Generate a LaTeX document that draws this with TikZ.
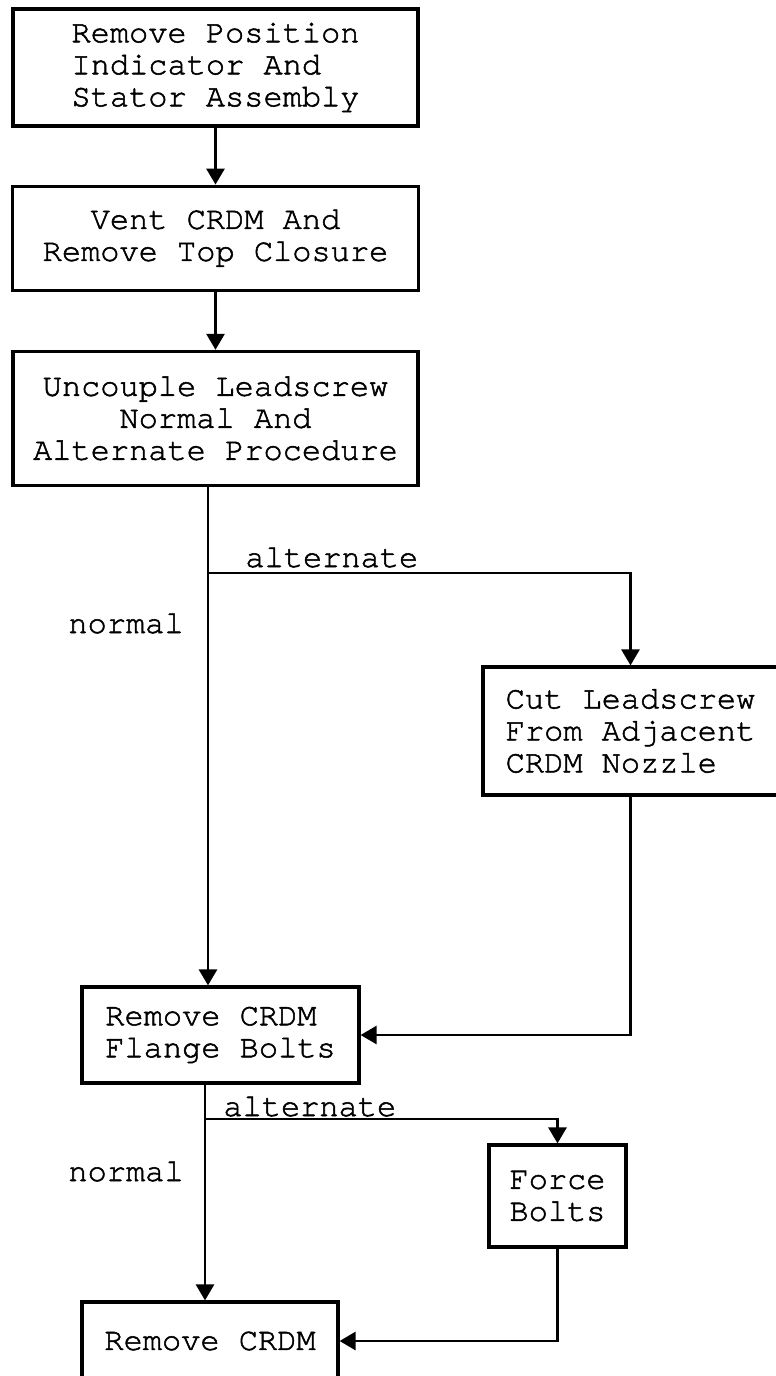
\documentclass[tikz,border=0pt]{standalone}
\usepackage{fontspec}
\newfontfamily\typewriter[FakeBold=1.6]{TeX Gyre Cursor}
\usetikzlibrary{arrows.meta, positioning}
\tikzset{
	stepbox/.style={rectangle, draw, line width=1.6pt, inner sep=0pt,
		font=\typewriter\fontsize{16}{16}\selectfont},
	flowline/.style={line width=1.4pt},
	flowarrow/.style={flowline, -{Triangle[length=8pt, width=9pt]}},
	branchlabel/.style={anchor=base west, inner sep=0pt,
		font=\typewriter\fontsize{16}{16}\selectfont}
}

\begin{document}
\begin{tikzpicture}[x=1pt, y=-1pt]
	\useasboundingbox (0,0) rectangle (388,688);
	
	%% ---- Main column ----
	\node[stepbox, align=left, minimum width=202.5pt, minimum height=58.5pt]
	at (107.75,33.75) (indicator) {Remove Position\\Indicator And\\Stator Assembly};
	\node[stepbox, align=center, minimum width=203pt, minimum height=52pt,
	below=28.5pt of indicator] (vent) {Vent CRDM And\\Remove Top Closure};
	\node[stepbox, align=center, minimum width=202.5pt, minimum height=67pt,
	below=29pt of vent] (uncouple) {Uncouple Leadscrew\\Normal And\\Alternate Procedure};
	
	%% ---- Alternate step (cut) ----
	\node[stepbox, align=left, minimum width=147.5pt, minimum height=64pt]
	at (315.25,365.5) (cut) {Cut Leadscrew\\From Adjacent\\CRDM Nozzle};
	
	%% ---- Lower part ----
	\node[stepbox, align=left, minimum width=138.5pt, minimum height=48pt]
	at (110.25,517.5) (flange) {Remove CRDM\\Flange Bolts};
	\node[stepbox, align=left, minimum width=68.5pt, minimum height=51pt]
	at (278.75,598) (force) {Force\\Bolts};
	\node[stepbox, minimum width=128pt, minimum height=39pt]
	at (105,670.5) (removecrdm) {Remove CRDM};
	
	%% ---- Branch points ----
	\coordinate (split1) at (104,286.5);
	\coordinate (split2) at (102.5,559.5);
	
	%% ---- Branch labels ----
	\node[branchlabel] at (122.5,283.5) (alt1) {alternate};
	\node[branchlabel] at (34,316.5) (norm1) {normal};
	\node[branchlabel] at (111.5,558) (alt2) {alternate};
	\node[branchlabel] at (34,590.5) (norm2) {normal};
	
	%% ---- Arrows ----
	\draw[flowarrow] (indicator.south) -- (vent.north);
	\draw[flowarrow] (vent.south) -- (uncouple.north);
	\draw[flowline] (uncouple.south -| split1) -- (split1);
	\draw[flowarrow] (split1) -- (flange.north -| split1);
	\draw[flowarrow] (split1) -| (cut.north);
	\draw[flowarrow] (cut.south) |- (flange.east);
	\draw[flowline] (flange.south -| split2) -- (split2);
	\draw[flowarrow] (split2) -- (removecrdm.north -| split2);
	\draw[flowarrow] (split2) -| (force.north);
	\draw[flowarrow] (force.south) |- (removecrdm.east);
	
\end{tikzpicture}
\end{document}
